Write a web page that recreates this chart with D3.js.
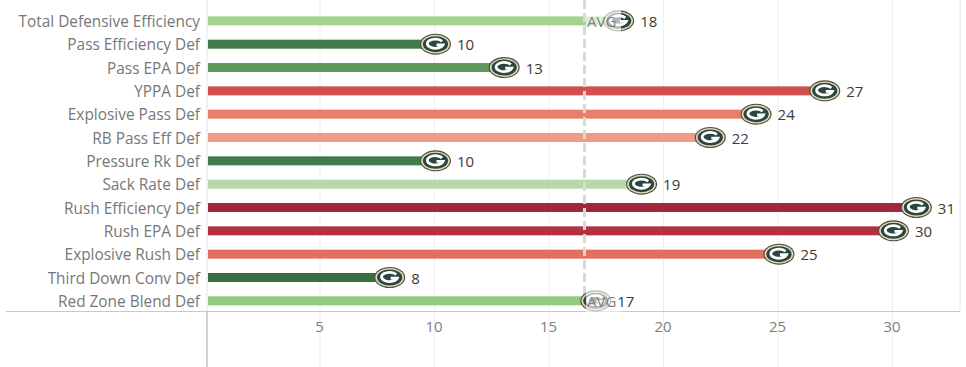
<!DOCTYPE html>
<html>
<head>
<meta charset="utf-8">
<script src="https://cdn.jsdelivr.net/npm/d3@7"></script>
<style>
  html, body { margin: 0; padding: 0; background: #fff; }
  svg { display: block; }
  text { font-family: "Open Sans", Lato, sans-serif; }
</style>
</head>
<body>
<div id="chart"></div>
<script>
// Defensive metrics and league rank
const metrics = ["Total Defensive Efficiency", "Pass Efficiency Def", "Pass EPA Def", "YPPA Def",
  "Explosive Pass Def", "RB Pass Eff Def", "Pressure Rk Def", "Sack Rate Def", "Rush Efficiency Def",
  "Rush EPA Def", "Explosive Rush Def", "Third Down Conv Def", "Red Zone Blend Def"];
const ranks = [18, 10, 13, 27, 24, 22, 10, 19, 31, 30, 25, 8, 17];
const xTicks = [5, 10, 15, 20, 25, 30];
const avgRank = 16.55;
const avgLabel = "AVG";

const width = 966, height = 367;
const plotLeft = 208, plotRight = 960, rowTop = 9.2, plotBottom = 311;

const x = d3.scaleLinear().domain([0, 32.84]).range([205.5, 957.5]);
const y = d3.scaleBand().domain(metrics).range([rowTop, rowTop + 23.33 * 13]);

// Rank colours, green (good) to red (bad)
const color = d3.scaleLinear()
  .domain([8, 10, 13, 17, 18, 19, 22, 24, 25, 27, 30, 31])
  .range(["#37703f", "#417b4b", "#5f9a5c", "#8fca80", "#a3d48e", "#b8d8a8",
          "#ee9c85", "#e87f6b", "#e36f5e", "#d05050", "#b2303f", "#a2263c"]);

const svg = d3.select("#chart").append("svg")
  .attr("width", width)
  .attr("height", height);

// Grid lines
svg.append("g").selectAll("line")
  .data(xTicks)
  .enter()
  .append("line")
  .attr("x1", d => x(d))
  .attr("x2", d => x(d))
  .attr("y1", 0)
  .attr("y2", height)
  .attr("stroke", "#efefef");

// Frame lines
svg.append("line").attr("x1", plotRight).attr("x2", plotRight).attr("y1", 0).attr("y2", plotBottom)
  .attr("stroke", "#e4e4e4");
svg.append("line").attr("x1", plotLeft - 1).attr("x2", plotLeft - 1).attr("y1", 0).attr("y2", plotBottom)
  .attr("stroke", "#e4e4e4");
svg.append("line").attr("x1", plotLeft - 1).attr("x2", plotLeft - 1).attr("y1", plotBottom).attr("y2", height)
  .attr("stroke", "#c4c4c4").attr("stroke-width", 1.5);
svg.append("line").attr("x1", 6).attr("x2", plotRight).attr("y1", plotBottom + 0.5).attr("y2", plotBottom + 0.5)
  .attr("stroke", "#c8c8c8");

// Tick labels
const xAxis = d3.axisBottom(x).tickValues(xTicks).tickSize(0).tickPadding(0);
const axisG = svg.append("g").attr("transform", "translate(-1, 321)").call(xAxis);
axisG.select(".domain").remove();
axisG.selectAll("text")
  .attr("font-size", 15)
  .attr("fill", "#7f7f7f")
  .style("font-family", '"Open Sans", sans-serif');

// Category labels
svg.append("g").selectAll("text")
  .data(metrics)
  .enter()
  .append("text")
  .attr("x", 200)
  .attr("y", d => y(d) + y.bandwidth() / 2 + 0.8)
  .attr("dy", "0.35em")
  .attr("text-anchor", "end")
  .attr("font-size", 15.4)
  .attr("fill", "#777777")
  .text(d => d);

// Bars
const rows = metrics.map((m, i) => ({ metric: m, rank: ranks[i] }));
svg.append("g").selectAll("rect")
  .data(rows)
  .enter()
  .append("rect")
  .attr("x", plotLeft)
  .attr("y", d => y(d.metric) + y.bandwidth() / 2 - 4.5)
  .attr("width", d => x(d.rank) - plotLeft)
  .attr("height", 9)
  .attr("fill", d => color(d.rank));

// Average line
svg.append("line")
  .attr("x1", x(avgRank))
  .attr("x2", x(avgRank))
  .attr("y1", 0)
  .attr("y2", plotBottom)
  .attr("stroke", "#d9d9d9")
  .attr("stroke-width", 3)
  .attr("stroke-dasharray", "9 4");

// Team logo marks
const logo = svg.append("g").selectAll("g")
  .data(rows)
  .enter()
  .append("g")
  .attr("transform", d => `translate(${x(d.rank) + 1}, ${y(d.metric) + y.bandwidth() / 2})`);

logo.append("ellipse").attr("rx", 15.5).attr("ry", 10.5).attr("fill", "#544f3a");
logo.append("ellipse").attr("rx", 14.3).attr("ry", 9.4).attr("fill", "#e2dcbc");
logo.append("ellipse").attr("rx", 12.6).attr("ry", 8).attr("fill", "#2a4640");
// the G
logo.append("path")
  .attr("d", "M6.6,-3 A8,4.6 0 1 0 7.6,0.6 L1,0.6")
  .attr("fill", "none")
  .attr("stroke", "#ffffff")
  .attr("stroke-width", 2.8);

// AVG labels sit over the logos on the rows closest to the line
const avgRows = [metrics[0], metrics[12]];
svg.append("g").selectAll("rect")
  .data(avgRows)
  .enter()
  .append("rect")
  .attr("x", x(avgRank) + 1.5)
  .attr("y", d => y(d) + y.bandwidth() / 2 - 11)
  .attr("width", 35)
  .attr("height", 22)
  .attr("fill", "#ffffff")
  .attr("opacity", 0.62);
svg.append("g").selectAll("text")
  .data(avgRows)
  .enter()
  .append("text")
  .attr("x", x(avgRank) + 2.5)
  .attr("y", d => y(d) + y.bandwidth() / 2 + 0.8)
  .attr("dy", "0.35em")
  .attr("font-size", 15)
  .attr("fill", "#7f7f7f")
  .text(avgLabel);

// Rank labels
svg.append("g").selectAll("text")
  .data(rows)
  .enter()
  .append("text")
  .attr("x", d => x(d.rank) + 22.5)
  .attr("y", d => y(d.metric) + y.bandwidth() / 2 + 0.8)
  .attr("dy", "0.35em")
  .attr("font-size", 15)
  .attr("fill", "#3a3a3a")
  .text(d => d.rank);
</script>
</body>
</html>
